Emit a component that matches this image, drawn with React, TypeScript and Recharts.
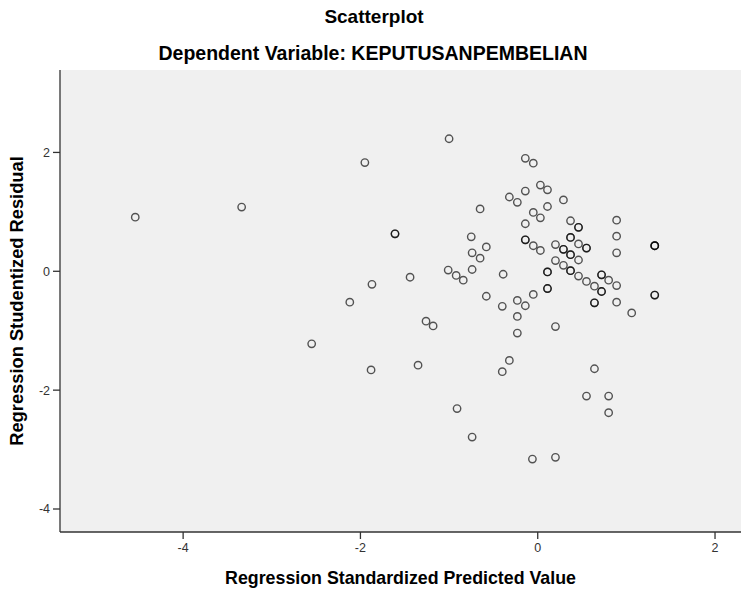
import React from "react";
import { ScatterChart, Scatter, XAxis, YAxis, CartesianGrid } from "recharts";

// Regression Standardized Predicted Value (x) and Studentized Residual (y)
const predicted = [
  -1.0, -1.95, -0.14, -0.05, 0.03, 0.11, -0.14, -0.32, -0.23, 0.29,
  0.11, -0.65, -0.05, 0.03, -0.14, -1.61, -1.61, -0.75, -0.14, -0.14,
  -0.58, -0.05, 0.03, 0.2, -0.74, -0.65, 0.2, -1.01, -0.92, -0.84,
  -0.74, -0.39, 0.11, 0.11, 0.11, 0.11, -1.44, -1.87, -2.12, -0.58,
  -0.4, -0.23, -0.14, -0.05, -0.23, -0.23, 0.2, -1.26, -1.18, -1.88,
  -1.35, -0.32, -0.4, -0.91, -0.74, -0.06, 0.2, 0.37, 0.46, 0.46,
  0.89, 0.89, 0.89, 1.32, 1.32, 1.32, 0.37, 0.37, 0.29, 0.29,
  0.46, 0.55, 0.55, 0.37, 0.37, 0.46, 0.29, 0.37, 0.37, 0.46,
  0.55, 0.64, 0.72, 0.72, 0.8, 0.89, 0.72, 0.72, 0.64, 0.64,
  0.89, 1.06, 1.32, 1.32, 0.64, 0.55, 0.8, 0.8, -4.54, -3.34,
  -2.55,
];
const residual = [
  2.23, 1.83, 1.9, 1.82, 1.45, 1.37, 1.35, 1.25, 1.16, 1.2,
  1.09, 1.05, 0.99, 0.9, 0.8, 0.63, 0.63, 0.58, 0.53, 0.53,
  0.41, 0.43, 0.35, 0.45, 0.31, 0.22, 0.18, 0.02, -0.07, -0.15,
  0.03, -0.05, -0.01, -0.01, -0.29, -0.29, -0.1, -0.22, -0.52, -0.42,
  -0.59, -0.49, -0.58, -0.39, -0.76, -1.04, -0.93, -0.84, -0.92, -1.66,
  -1.58, -1.5, -1.69, -2.31, -2.79, -3.16, -3.13, 0.85, 0.74, 0.74,
  0.86, 0.59, 0.31, 0.43, 0.43, 0.43, 0.57, 0.57, 0.37, 0.37,
  0.46, 0.39, 0.39, 0.28, 0.28, 0.19, 0.1, 0.01, 0.01, -0.08,
  -0.17, -0.25, -0.06, -0.06, -0.15, -0.24, -0.34, -0.34, -0.53, -0.53,
  -0.52, -0.7, -0.4, -0.4, -1.64, -2.1, -2.1, -2.38, 0.91, 1.08,
  -1.22,
];
const xTicks = [-4, -2, 0, 2];
const yTicks = [-4, -2, 0, 2];

const title = "Scatterplot";
const subtitle = "Dependent Variable: KEPUTUSANPEMBELIAN";
const xTitle = "Regression Standardized Predicted Value";
const yTitle = "Regression Studentized Residual";

const data = predicted.map((x, i) => ({ x, y: residual[i] }));

const FONT = "'Liberation Sans', Arial, sans-serif";

const Ring = (props: any) => {
  const { cx, cy } = props;
  if (cx == null || cy == null) return null;
  return (
    <circle
      cx={cx}
      cy={cy}
      r={3.7}
      fill="none"
      stroke="#000"
      strokeOpacity={0.66}
      strokeWidth={1.4}
    />
  );
};

export default function App() {
  return (
    <div
      style={{
        position: "absolute",
        left: 0,
        top: 0,
        width: 741,
        height: 590,
        background: "#fff",
        fontFamily: FONT,
        overflow: "hidden",
      }}
    >
      <div
        style={{
          position: "absolute",
          left: 0,
          top: 6,
          width: 748,
          lineHeight: "22px",
          textAlign: "center",
          fontWeight: "bold",
          fontSize: 19,
          color: "#000",
        }}
      >
        {title}
      </div>
      <div
        style={{
          position: "absolute",
          left: 0,
          top: 42,
          width: 746,
          lineHeight: "22px",
          textAlign: "center",
          fontWeight: "bold",
          fontSize: 19.5,
          color: "#000",
        }}
      >
        {subtitle}
      </div>
      <ScatterChart
        width={741}
        height={590}
        margin={{ top: 70, right: 0, bottom: 0, left: 0 }}
        style={{ position: "absolute", left: 0, top: 0 }}
      >
        <CartesianGrid fill="#f0f0f0" horizontal={false} vertical={false} />
        <XAxis
          xAxisId="top"
          orientation="top"
          type="number"
          dataKey="x"
          domain={[-5.389, 2.293]}
          height={0}
          tick={false}
          tickLine={false}
          axisLine={{ stroke: "#8a8a8a", strokeWidth: 2 }}
          allowDataOverflow
        />
        <XAxis
          type="number"
          dataKey="x"
          domain={[-5.389, 2.293]}
          ticks={xTicks}
          height={58}
          tickSize={7}
          tickMargin={4}
          tick={{ fill: "#333", fontSize: 12.5, fontFamily: FONT }}
          tickLine={{ stroke: "#333", strokeWidth: 1.3 }}
          axisLine={{ stroke: "#333", strokeWidth: 1.3 }}
          allowDataOverflow
        />
        <YAxis
          type="number"
          dataKey="y"
          domain={[-4.387, 3.387]}
          ticks={yTicks}
          width={60}
          tickSize={7}
          tickMargin={3}
          tick={{ fill: "#333", fontSize: 12.5, fontFamily: FONT }}
          tickLine={{ stroke: "#333", strokeWidth: 1.3 }}
          axisLine={{ stroke: "#333", strokeWidth: 1.3 }}
          allowDataOverflow
        />
        <Scatter
          data={data}
          shape={<Ring />}
          isAnimationActive={false}
        />
      </ScatterChart>
      <div
        style={{
          position: "absolute",
          left: 60,
          top: 567,
          width: 681,
          lineHeight: "22px",
          textAlign: "center",
          fontWeight: "bold",
          fontSize: 17.8,
          color: "#000",
        }}
      >
        {xTitle}
      </div>
      <div
        style={{
          position: "absolute",
          left: 17 - 200,
          top: 301 - 11,
          width: 400,
          height: 22,
          lineHeight: "22px",
          textAlign: "center",
          fontWeight: "bold",
          fontSize: 18.3,
          color: "#000",
          transform: "rotate(-90deg)",
        }}
      >
        {yTitle}
      </div>
    </div>
  );
}
